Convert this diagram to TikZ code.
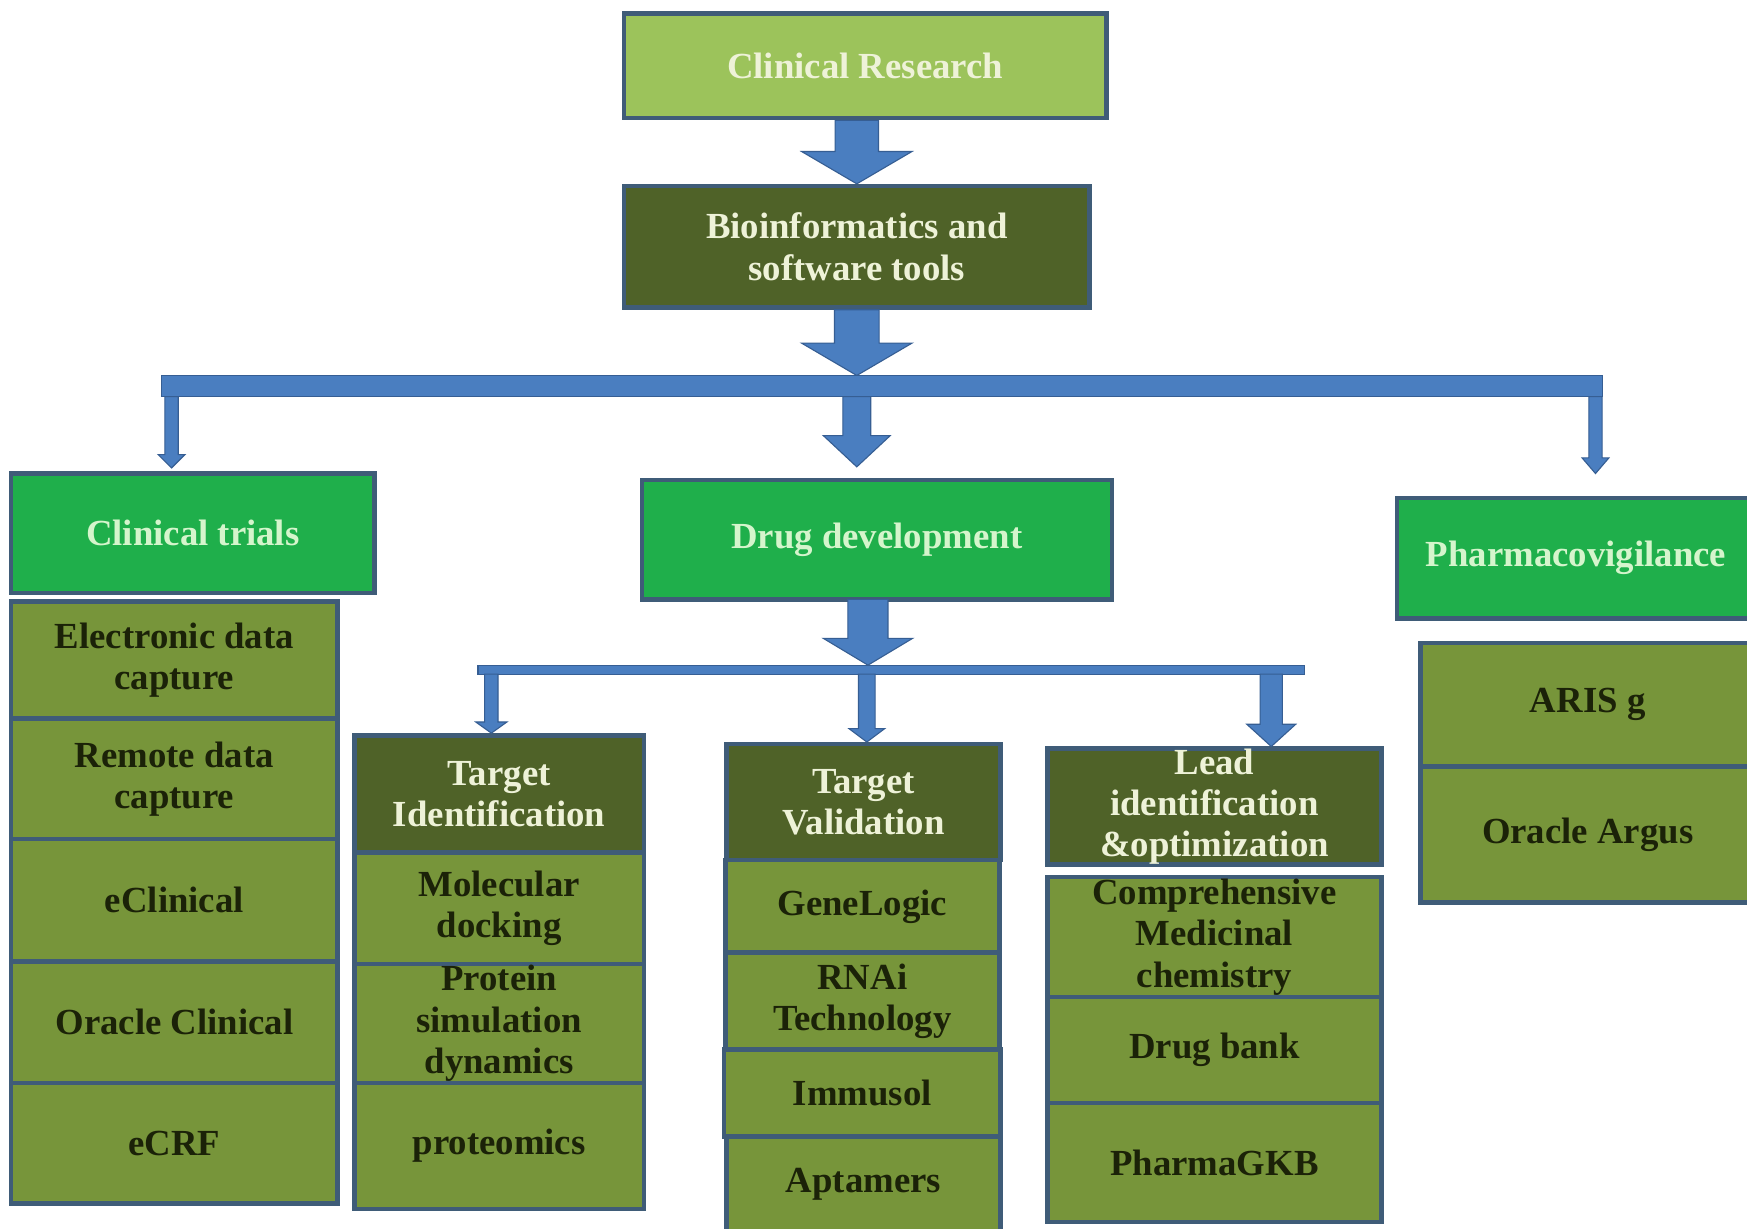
\documentclass[tikz,border=0pt]{standalone}
\usepackage{fontspec}
\setmainfont{Liberation Serif}
\usetikzlibrary{calc}
\definecolor{bord}{HTML}{3F5C78}
\definecolor{crfill}{HTML}{9CC35B}
\definecolor{darkol}{HTML}{4F6228}
\definecolor{midgr}{HTML}{1FAF4B}
\definecolor{olivefill}{HTML}{77953A}
\definecolor{arrfill}{HTML}{4A7EC0}
\definecolor{arrdraw}{HTML}{365E93}
\definecolor{cream}{HTML}{EEF2D8}
\definecolor{mint}{HTML}{D5F5CC}
\definecolor{ink}{HTML}{1B2208}
% #1 start, #2 tip, #3 shaft half width, #4 head half width, #5 head length
\newcommand{\blkarrow}[5]{%
  \filldraw[arrowsty] let \p1=(#1), \p2=(#2) in
    (\x1-#3pt,\y1) -- (\x1-#3pt,\y2+#5pt) -- (\x1-#4pt,\y2+#5pt) -- (\x1,\y2)
    -- (\x1+#4pt,\y2+#5pt) -- (\x1+#3pt,\y2+#5pt) -- (\x1+#3pt,\y1) -- cycle;}
\begin{document}
\begin{tikzpicture}[x=1pt,y=-1pt,
  box/.style={draw=bord,line width=4pt,inner sep=0pt,align=center,
    font=\fontsize{33}{37}\selectfont\bfseries},
  crbox/.style={box,fill=crfill,text=cream},
  hdbox/.style={box,fill=darkol,text=cream},
  grbox/.style={box,fill=midgr,text=mint},
  subbox/.style={box,fill=olivefill,text=ink},
  arrowsty/.style={fill=arrfill,draw=arrdraw,line width=1pt}]
\clip (0,0) rectangle (1568,1103);
\fill[white] (0,0) rectangle (1568,1103);

% top level
\node[crbox,minimum width=433,minimum height=94] (cr) at (776.5,59) {Clinical Research};
\node[hdbox,minimum width=418,minimum height=109] (bio) at (769,221.5) {Bioinformatics and\\software tools};

% second level
\node[grbox,minimum width=326,minimum height=107] (ct) at (173,478.5) {Clinical trials};
\node[grbox,minimum width=422,minimum height=107] (dd) at (787,484.5) {Drug development};
\node[grbox,minimum width=321,minimum height=108] (pv) at (1414.5,501) {Pharmacovigilance};

% clinical trials column
\node[subbox,minimum width=293,minimum height=105] (ecd) at (156.5,592.5) {Electronic data\\capture};
\node[subbox,minimum width=293,minimum height=108] (rdc) at (156.5,699) {Remote data\\capture};
\node[subbox,minimum width=293,minimum height=110] (ecl) at (156.5,808) {eClinical};
\node[subbox,minimum width=293,minimum height=109] (ocl) at (156.5,917.5) {Oracle Clinical};
\node[subbox,minimum width=293,minimum height=108] (ecrf) at (156.5,1026) {eCRF};

% target identification column
\node[hdbox,minimum width=260,minimum height=105] (tid) at (448,712.5) {Target\\Identification};
\node[subbox,minimum width=260,minimum height=100] (md) at (448,815) {Molecular\\docking};
\node[subbox,minimum width=260,minimum height=107] (psd) at (448,918.5) {Protein\\simulation\\dynamics};
\node[subbox,minimum width=260,minimum height=113] (prot) at (448,1028.5) {proteomics};

% target validation column
\node[hdbox,minimum width=246,minimum height=104] (tv) at (775,720) {Target\\Validation};
\node[subbox,minimum width=246,minimum height=83] (gl) at (774,813.5) {GeneLogic};
\node[subbox,minimum width=246,minimum height=87] (rnai) at (774,898.5) {RNAi\\Technology};
\node[subbox,minimum width=248,minimum height=78] (imm) at (774,981) {Immusol};
\node[subbox,minimum width=246,minimum height=86] (apt) at (775,1063) {Aptamers};

% lead column
\node[hdbox,minimum width=300,minimum height=104] (lead) at (1090,724) {Lead\\identification\\\&optimization};
\node[subbox,minimum width=300,minimum height=108] (cmc) at (1090,841) {Comprehensive\\Medicinal\\chemistry};
\node[subbox,minimum width=300,minimum height=95] (db) at (1090,942.5) {Drug bank};
\node[subbox,minimum width=300,minimum height=107] (pgkb) at (1090,1043.5) {PharmaGKB};

% pharmacovigilance column
\node[subbox,minimum width=300,minimum height=111] (aris) at (1425,632.5) {ARIS g};
\node[subbox,minimum width=300,minimum height=122] (oarg) at (1425,749) {Oracle Argus};

% connector coordinates
\coordinate (barTL) at (145,337);
\coordinate (barBR) at (1438,356);
\coordinate (dropL) at (154,356);
\coordinate (dropM) at (769,356);
\coordinate (dropR) at (1432,356);
\coordinate (ddout) at (779,538);
\coordinate (bar2TL) at (429,597);
\coordinate (bar2BR) at (1171,605);
\coordinate (d2L) at (441,605);
\coordinate (d2M) at (778,605);
\coordinate (d2R) at (1141,605);

% top arrows
\blkarrow{bio.north |- cr.south}{bio.north}{19.5}{49.5}{29}
\blkarrow{bio.south}{bio.south |- barTL}{20}{49.5}{29}
\filldraw[arrowsty] (barTL) rectangle (barBR);
\blkarrow{dropL}{$(dropL |- ct.north)+(0,-3)$}{6}{12}{12}
\blkarrow{dropM}{$(dropM |- dd.north)+(0,-10)$}{12.5}{30}{28}
\blkarrow{dropR}{$(dropR |- pv.north)+(0,-20)$}{6}{12}{14}

% drug development arrows
\blkarrow{ddout}{ddout |- bar2TL}{18}{40}{24}
\filldraw[arrowsty] (bar2TL) rectangle (bar2BR);
\blkarrow{d2L}{d2L |- tid.north}{6}{14}{10}
\blkarrow{d2M}{d2M |- tv.north}{7.5}{16}{12}
\blkarrow{d2R}{d2R |- lead.north}{10}{22}{20}
\end{tikzpicture}
\end{document}
